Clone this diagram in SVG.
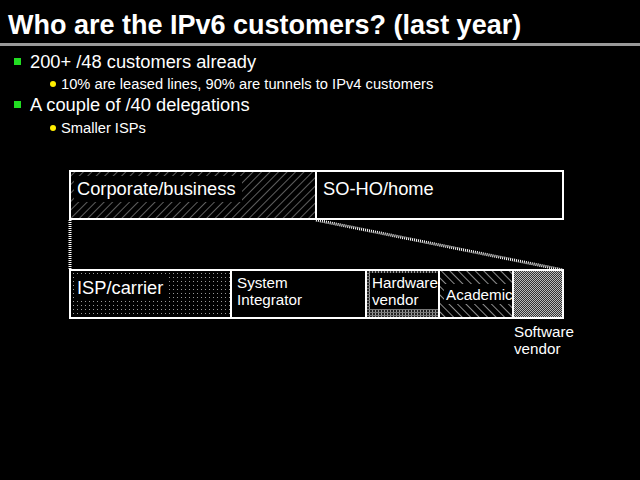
<svg xmlns="http://www.w3.org/2000/svg" width="640" height="480" viewBox="0 0 640 480">
<defs>
<style>
.t{font-family:"Liberation Sans",Arial,sans-serif;fill:#fff}
.box{fill:none;stroke:#fff;stroke-width:2}
.dot{stroke:#fff;stroke-width:3;stroke-dasharray:1,1;fill:none}
</style>
<pattern id="fwd" width="6" height="6" patternUnits="userSpaceOnUse" patternTransform="rotate(45)">
<rect width="6" height="6" fill="#000"/><line x1="0" y1="0" x2="0" y2="6" stroke="#bbb" stroke-width="1"/>
</pattern>
<pattern id="back" width="6" height="6" patternUnits="userSpaceOnUse" patternTransform="rotate(-45)">
<rect width="6" height="6" fill="#000"/><line x1="0" y1="0" x2="0" y2="6" stroke="#ccc" stroke-width="1.4"/>
</pattern>
<pattern id="sparse" width="4" height="4" patternUnits="userSpaceOnUse">
<rect width="4" height="4" fill="#000"/><rect x="1" y="1" width="1" height="1" fill="#999"/>
</pattern>
<pattern id="grid" width="3" height="3" patternUnits="userSpaceOnUse">
<rect width="3" height="3" fill="#222"/><rect x="0" y="0" width="1" height="3" fill="#999"/><rect x="0" y="0" width="3" height="1" fill="#777"/>
</pattern>
<pattern id="dense" width="2" height="2" patternUnits="userSpaceOnUse">
<rect width="2" height="2" fill="#333"/><rect x="0" y="0" width="1" height="1" fill="#bbb"/><rect x="1" y="1" width="1" height="1" fill="#bbb"/>
</pattern>
</defs>
<rect width="640" height="480" fill="#000"/>
<g id="title">
<text class="t" x="8" y="34" font-size="27" font-weight="bold">Who are the IPv6 customers? (last year)</text>
<rect x="0" y="43" width="640" height="3" fill="#999"/>
</g>
<g id="bullets">
<rect x="14" y="58" width="7" height="7" fill="#22dd22"/>
<text class="t" x="30" y="68" font-size="18.3">200+ /48 customers already</text>
<circle cx="53" cy="84" r="3" fill="#ffee00"/>
<text class="t" x="61" y="89" font-size="14.7">10% are leased lines, 90% are tunnels to IPv4 customers</text>
<rect x="14" y="101" width="7" height="7" fill="#22dd22"/>
<text class="t" x="30" y="111" font-size="18.3">A couple of /40 delegations</text>
<circle cx="53" cy="128" r="3" fill="#ffee00"/>
<text class="t" x="61" y="133" font-size="14.7">Smaller ISPs</text>
</g>
<g id="connectors">
<line class="dot" x1="70" y1="220" x2="70" y2="270"/>
<line class="dot" x1="316" y1="220" x2="563" y2="270"/>
</g>
<g id="corporate">
<rect x="70" y="171" width="246" height="48" fill="url(#fwd)"/>
<rect x="74" y="176" width="168" height="26" fill="#000"/>
<text class="t" x="77" y="195" font-size="18.3">Corporate/business</text>
</g>
<g id="soho">
<text class="t" x="323" y="195" font-size="18.3">SO-HO/home</text>
</g>
<rect class="box" x="70" y="171" width="493" height="48"/>
<line x1="316" y1="171" x2="316" y2="219" stroke="#fff" stroke-width="2"/>
<g id="isp">
<rect x="70" y="270" width="161" height="48" fill="url(#sparse)"/>
<rect x="74" y="276" width="92" height="24" fill="#000"/>
<text class="t" x="77" y="294" font-size="18.3">ISP/carrier</text>
</g>
<g id="sysint">
<text class="t" x="237" y="288" font-size="15.2">System</text>
<text class="t" x="237" y="305" font-size="15.2">Integrator</text>
</g>
<g id="hardware">
<rect x="366" y="270" width="73" height="48" fill="url(#grid)"/>
<rect x="370" y="273" width="68" height="36" fill="#000"/>
<text class="t" x="372" y="288" font-size="15.2">Hardware</text>
<text class="t" x="372" y="305" font-size="15.2">vendor</text>
</g>
<g id="academic">
<rect x="439" y="270" width="74" height="48" fill="url(#back)"/>
<rect x="444" y="284" width="69" height="20" fill="#000"/>
<text class="t" x="446" y="300" font-size="15.2">Academic</text>
</g>
<g id="software">
<rect x="513" y="270" width="50" height="48" fill="url(#dense)"/>
<text class="t" x="514" y="337" font-size="15.2">Software</text>
<text class="t" x="514" y="354" font-size="15.2">vendor</text>
</g>
<g id="bottom-frame">
<rect class="box" x="70" y="270" width="493" height="48"/>
<line x1="231" y1="270" x2="231" y2="318" stroke="#fff" stroke-width="2"/>
<line x1="366" y1="270" x2="366" y2="318" stroke="#fff" stroke-width="2"/>
<line x1="439" y1="270" x2="439" y2="318" stroke="#fff" stroke-width="2"/>
<line x1="513" y1="270" x2="513" y2="318" stroke="#fff" stroke-width="2"/>
</g>
</svg>
